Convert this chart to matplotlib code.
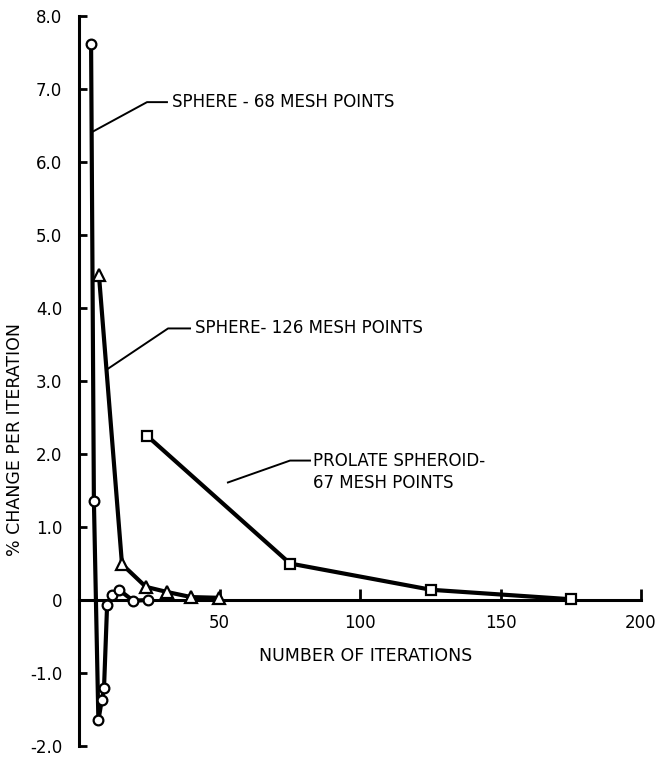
import matplotlib
matplotlib.use("Agg")
import matplotlib.pyplot as plt

plt.rcParams['font.family'] = ['DejaVu Sans']

# --- data ---
s68_iter = [4.3, 5.3, 6.9, 8.1, 8.9, 10.0, 11.8, 14.2, 19.3, 24.4]
s68_pct = [7.62, 1.36, -1.65, -1.37, -1.21, -0.07, 0.07, 0.14, -0.01, 0.0]

s126_iter = [7.1, 15.3, 23.8, 31.3, 39.9, 49.8]
s126_pct = [4.45, 0.49, 0.18, 0.11, 0.04, 0.03]

prol_iter = [24.2, 75.1, 125.3, 175.1]
prol_pct = [2.25, 0.50, 0.14, 0.01]

yticks = [-2, -1, 0, 1, 2, 3, 4, 5, 6, 7, 8]
ytick_labels = ['-2.0', '-1.0', '0', '1.0', '2.0', '3.0', '4.0', '5.0', '6.0', '7.0', '8.0']
xticks = [50, 100, 150, 200]
xtick_labels = ['50', '100', '150', '200']

W, H = 659, 757
fig = plt.figure(figsize=(W / 100, H / 100), dpi=100)
ax = fig.add_axes([79 / W, (H - 746) / H, (641 - 79) / W, (746 - 16) / H])
ax.set_xlim(0, 200)
ax.set_ylim(-2, 8)

lw = 3.0
mk = dict(markerfacecolor='white', markeredgecolor='black', markeredgewidth=1.6, clip_on=False)
ax.plot(s68_iter, s68_pct, color='black', lw=lw, marker='o', markersize=7, zorder=3, **mk)
ax.plot(s126_iter, s126_pct, color='black', lw=lw, marker='^', markersize=8.5, zorder=3, **mk)
ax.plot(prol_iter, prol_pct, color='black', lw=lw, marker='s', markersize=7, zorder=3, **mk)

# spines
for s in ['top', 'right']:
    ax.spines[s].set_visible(False)
ax.spines['bottom'].set_position(('data', 0))
ax.spines['left'].set_linewidth(2.2)
ax.spines['bottom'].set_linewidth(2.2)

ax.set_yticks(yticks)
ax.set_yticklabels(ytick_labels)
ax.set_xticks(xticks)
ax.set_xticklabels(xtick_labels)
ax.tick_params(axis='y', direction='in', length=6, width=2, pad=12, labelsize=12)
ax.tick_params(axis='x', direction='in', length=8, width=2, pad=10, labelsize=12)

# leader lines and annotations
tk = dict(fontsize=12, va='center', ha='left')
ax.plot([4.6, 24.2, 31.3], [6.41, 6.82, 6.82], color='black', lw=1.4, zorder=2)
ax.text(33.1, 6.82, 'SPHERE - 68 MESH POINTS', **tk)

ax.plot([10.0, 31.7, 39.5], [3.16, 3.72, 3.72], color='black', lw=1.4, zorder=2)
ax.text(41.3, 3.72, 'SPHERE- 126 MESH POINTS', **tk)

ax.plot([53.0, 75.1, 82.2], [1.61, 1.91, 1.91], color='black', lw=1.4, zorder=2)
ax.text(83.3, 1.91, 'PROLATE SPHEROID-', **tk)
ax.text(83.3, 1.60, '67 MESH POINTS', **tk)

fig.text(366 / W, 1 - 656 / H, 'NUMBER OF ITERATIONS', fontsize=12.5, ha='center', va='center')
fig.text(15 / W, 1 - 440 / H, '% CHANGE PER ITERATION', fontsize=12.5, ha='center', va='center', rotation=90)

fig.savefig('out.png', dpi=100)
